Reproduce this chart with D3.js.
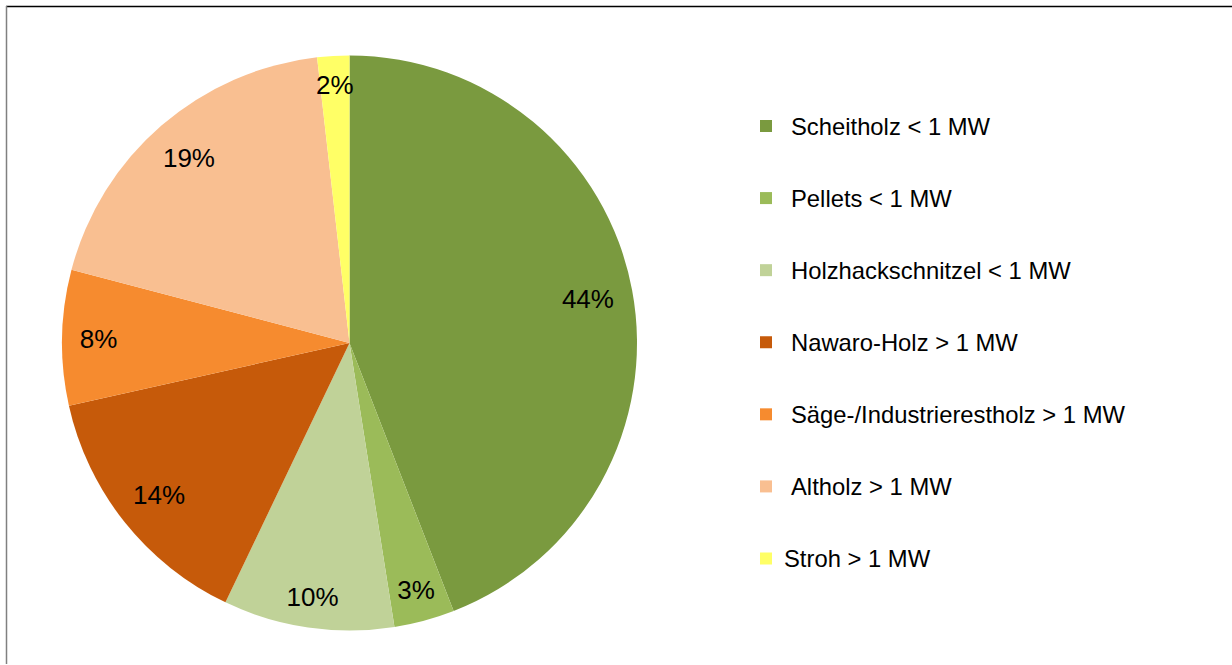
<!DOCTYPE html>
<meta charset="utf-8">
<head>
    <script type="text/javascript" src="https://d3js.org/d3.v7.min.js"></script>
    <style>
        body { margin: 0; background: #fff; }
        text { font-family: "Liberation Sans", Arial, sans-serif; fill: #000; }
    </style>
</head>
<body>
<div id="chart"></div>
</body>
<script>
    // data (share of wood energy use, percent)
    var categories = ["Scheitholz < 1 MW", "Pellets < 1 MW", "Holzhackschnitzel < 1 MW",
        "Nawaro-Holz > 1 MW", "Säge-/Industrierestholz > 1 MW", "Altholz > 1 MW", "Stroh > 1 MW"];
    var shares = [44.1, 3.4, 9.6, 14.4, 7.6, 19.1, 1.8];
    var colors = ["#7a9a3f", "#9bbb59", "#c0d298", "#c65a0a", "#f68b2f", "#f9bf91", "#ffff66"];

    var width = 1232, height = 665;
    var cx = 349.5, cy = 343, radius = 287.5;

    var svg = d3.select("#chart").append("svg")
        .attr("width", width)
        .attr("height", height);

    // frame (top + left edges visible)
    svg.append("line").attr("x1", 6).attr("x2", width).attr("y1", 6.5).attr("y2", 6.5)
        .attr("stroke", "#000").attr("stroke-width", 1.5);
    svg.append("line").attr("x1", 6.5).attr("x2", 6.5).attr("y1", 6).attr("y2", 664)
        .attr("stroke", "#808080").attr("stroke-width", 1.5);

    var data = categories.map(function (c, i) { return {name: c, value: shares[i], color: colors[i]}; });

    var pie = d3.pie().sort(null).value(function (d) { return d.value; });
    var arc = d3.arc().innerRadius(0).outerRadius(radius);

    var g = svg.append("g").attr("transform", "translate(" + cx + "," + cy + ")");
    var arcs = pie(data);

    g.selectAll("path.slice")
        .data(arcs)
        .enter().append("path")
        .attr("class", "slice")
        .attr("d", arc)
        .attr("fill", function (d) { return d.data.color; });

    // labels sit inside the rim, pushed in by the box extent along the radius
    var labelEdge = 270;
    g.selectAll("text.pct")
        .data(arcs)
        .enter().append("text")
        .attr("class", "pct")
        .attr("text-anchor", "middle")
        .attr("dy", "0.36em")
        .style("font-size", "26px")
        .text(function (d) { return Math.round(d.data.value) + "%"; })
        .attr("transform", function (d) {
            var a = (d.startAngle + d.endAngle) / 2;
            var hw = this.getComputedTextLength() / 2, hh = 10;
            var r = labelEdge - (Math.abs(Math.sin(a)) * hw + Math.abs(Math.cos(a)) * hh);
            return "translate(" + (r * Math.sin(a)) + "," + (-r * Math.cos(a)) + ")";
        });

    // legend
    var legendY = d3.scalePoint().domain(categories).range([126, 558.5]);
    var legend = svg.append("g").selectAll("g")
        .data(data)
        .enter().append("g")
        .attr("transform", function (d) { return "translate(760," + legendY(d.name) + ")"; });

    legend.append("rect")
        .attr("x", 0).attr("y", -6)
        .attr("width", 12).attr("height", 12)
        .attr("fill", function (d) { return d.color; });

    legend.append("text")
        .attr("x", function (d, i) { return i === categories.length - 1 ? 24 : 31; })
        .attr("y", 8.5)
        .style("font-size", "23.8px")
        .text(function (d) { return d.name; });
</script>
</html>
